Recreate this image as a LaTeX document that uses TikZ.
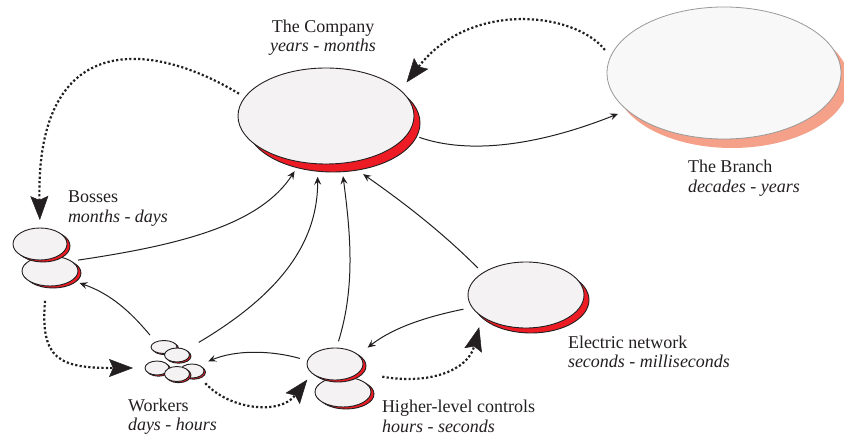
\documentclass[tikz,border=0pt]{standalone}
\usepackage{fontspec}
\setmainfont{Liberation Serif}
\usetikzlibrary{shapes.geometric,arrows.meta}

\definecolor{ink}{HTML}{231F20}
\definecolor{paper}{HTML}{F5F2F4}
\definecolor{crimson}{HTML}{ED1C24}
\definecolor{salmon}{HTML}{F5A088}
\definecolor{pale}{HTML}{F8F8F8}

\tikzset{
  body/.style={ellipse, draw=ink, fill=paper, line width=0.9pt, inner sep=0pt, outer sep=0pt},
  crimsonback/.style={draw=ink, fill=crimson, line width=0.9pt},
  branchbody/.style={ellipse, draw=black!40, fill=pale, line width=0.8pt, inner sep=0pt, outer sep=0pt},
  salmonback/.style={fill=salmon},
  lbl/.style={text=ink, font=\fontsize{18}{20}\selectfont, inner sep=0pt, outer sep=0pt},
  lblit/.style={lbl, font=\fontsize{18}{20}\selectfont\itshape},
  link/.style={draw=ink, line width=1pt, -{Stealth[length=8pt,width=7pt,inset=3pt]}},
  loopflow/.style={draw=ink, line width=2.2pt, dash pattern=on 2.2pt off 2.2pt,
    -{Stealth[length=24pt,width=18pt,inset=4pt,line width=0.5pt]}},
}

% an ellipse with its offset crimson backing
\newcommand\blob[7]{%
  \path[crimsonback] (#2+#6,#3+#7) ellipse [x radius=#4/2, y radius=#5/2];
  \node[body, minimum width=#4pt, minimum height=#5pt] (#1) at (#2,#3) {};
}

\begin{document}
\begin{tikzpicture}[x=1pt,y=-1pt]
\useasboundingbox (0,0) rectangle (844,438);

% the branch
\path[salmonback] (732,82) ellipse [x radius=117, y radius=66];
\node[branchbody, minimum width=234pt, minimum height=132pt] (branch) at (724,73) {};

% the company and the electric network
\path[crimsonback] (333,123) ellipse [x radius=87, y radius=49];
\node[body, minimum width=176pt, minimum height=96pt] (company) at (326,116) {};
\blob{grid}{526}{295}{116}{66}{5}{5}

% bosses
\blob{bossesB}{50}{271}{56}{30}{3}{2}
\blob{bossesA}{40}{244}{54}{32}{3}{2}

% higher-level controls
\blob{higherB}{343}{392}{56}{30}{3}{2}
\blob{higherA}{335}{364}{56}{32}{3}{2}

% workers
\blob{w1}{164}{347}{26}{13}{1.5}{1.2}
\blob{w2}{177}{355}{25}{14}{1.5}{1.2}
\blob{w3}{157}{368}{24}{14}{1.5}{1.2}
\blob{w4}{192}{371}{24}{14}{1.5}{1.2}
\blob{w5}{177}{374}{25}{15}{1.5}{1.2}

% labels
\node[lbl, anchor=base] (companyName) at (323,33) {The Company};
\node[lblit, anchor=base] (companyTime) at (323,52) {years - months};
\node[lbl, anchor=base west] (branchName) at (688,173) {The Branch};
\node[lblit, anchor=base west] (branchTime) at (688,193) {decades - years};
\node[lbl, anchor=base west] (bossesName) at (68,203) {Bosses};
\node[lblit, anchor=base west] (bossesTime) at (68,223) {months - days};
\node[lbl, anchor=base west] (workersName) at (128,412) {Workers};
\node[lblit, anchor=base west] (workersTime) at (128,431) {days - hours};
\node[lbl, anchor=base west] (higherName) at (382,413) {Higher-level controls};
\node[lblit, anchor=base west] (higherTime) at (382,432) {hours - seconds};
\node[lbl, anchor=base west] (gridName) at (568,349) {Electric network};
\node[lblit, anchor=base west] (gridTime) at (568,368) {seconds - milliseconds};

% dotted cycle
\draw[loopflow, shorten <=7pt, shorten >=8pt] (company.167) .. controls (150,40) and (36,30) .. (bossesA.north);
\draw[loopflow, shorten <=15pt, shorten >=12pt] (bossesB.-104.5) .. controls (40,360) and (60,368) .. (w3.west);
\draw[loopflow, shorten <=9pt, shorten >=8pt] (w4.-38.7) .. controls (230,410) and (280,415) .. (higherA.202.8);
\draw[loopflow, shorten <=24pt, shorten >=11pt] (higherA.-20) .. controls (430,385) and (468,370) .. (grid.206.8);
\draw[loopflow, shorten <=9pt, shorten >=10pt] (branch.172.6) .. controls (575,12) and (470,0) .. (company.19);

% solid links
\draw[link, shorten <=12pt, shorten >=10pt] (company.-12) .. controls (470,155) and (540,145) .. (branch.201.6);
\draw[link, shorten <=7pt, shorten >=11pt] (bossesB.25) .. controls (180,245) and (260,225) .. (company.241.5);
\draw[link, shorten <=15pt, shorten >=13pt] (w2.29.5) .. controls (270,300) and (318,250) .. (company.260.7);
\draw[link, shorten <=7pt, shorten >=13pt] (higherA.85) .. controls (356,285) and (350,230) .. (company.-72);
\draw[link, shorten <=7pt, shorten >=20pt] (grid.153.9) .. controls (440,230) and (400,200) .. (company.-66);
\draw[link, shorten <=9pt, shorten >=12pt] (grid.193.4) .. controls (420,318) and (390,330) .. (higherA.21.8);
\draw[link, shorten <=8pt, shorten >=10pt] (higherA.173.8) .. controls (270,350) and (235,350) .. (w4.39);
\draw[link, shorten <=9pt, shorten >=8pt] (w1.149.5) .. controls (125,305) and (105,292) .. (bossesB.-23.4);
\end{tikzpicture}
\end{document}
